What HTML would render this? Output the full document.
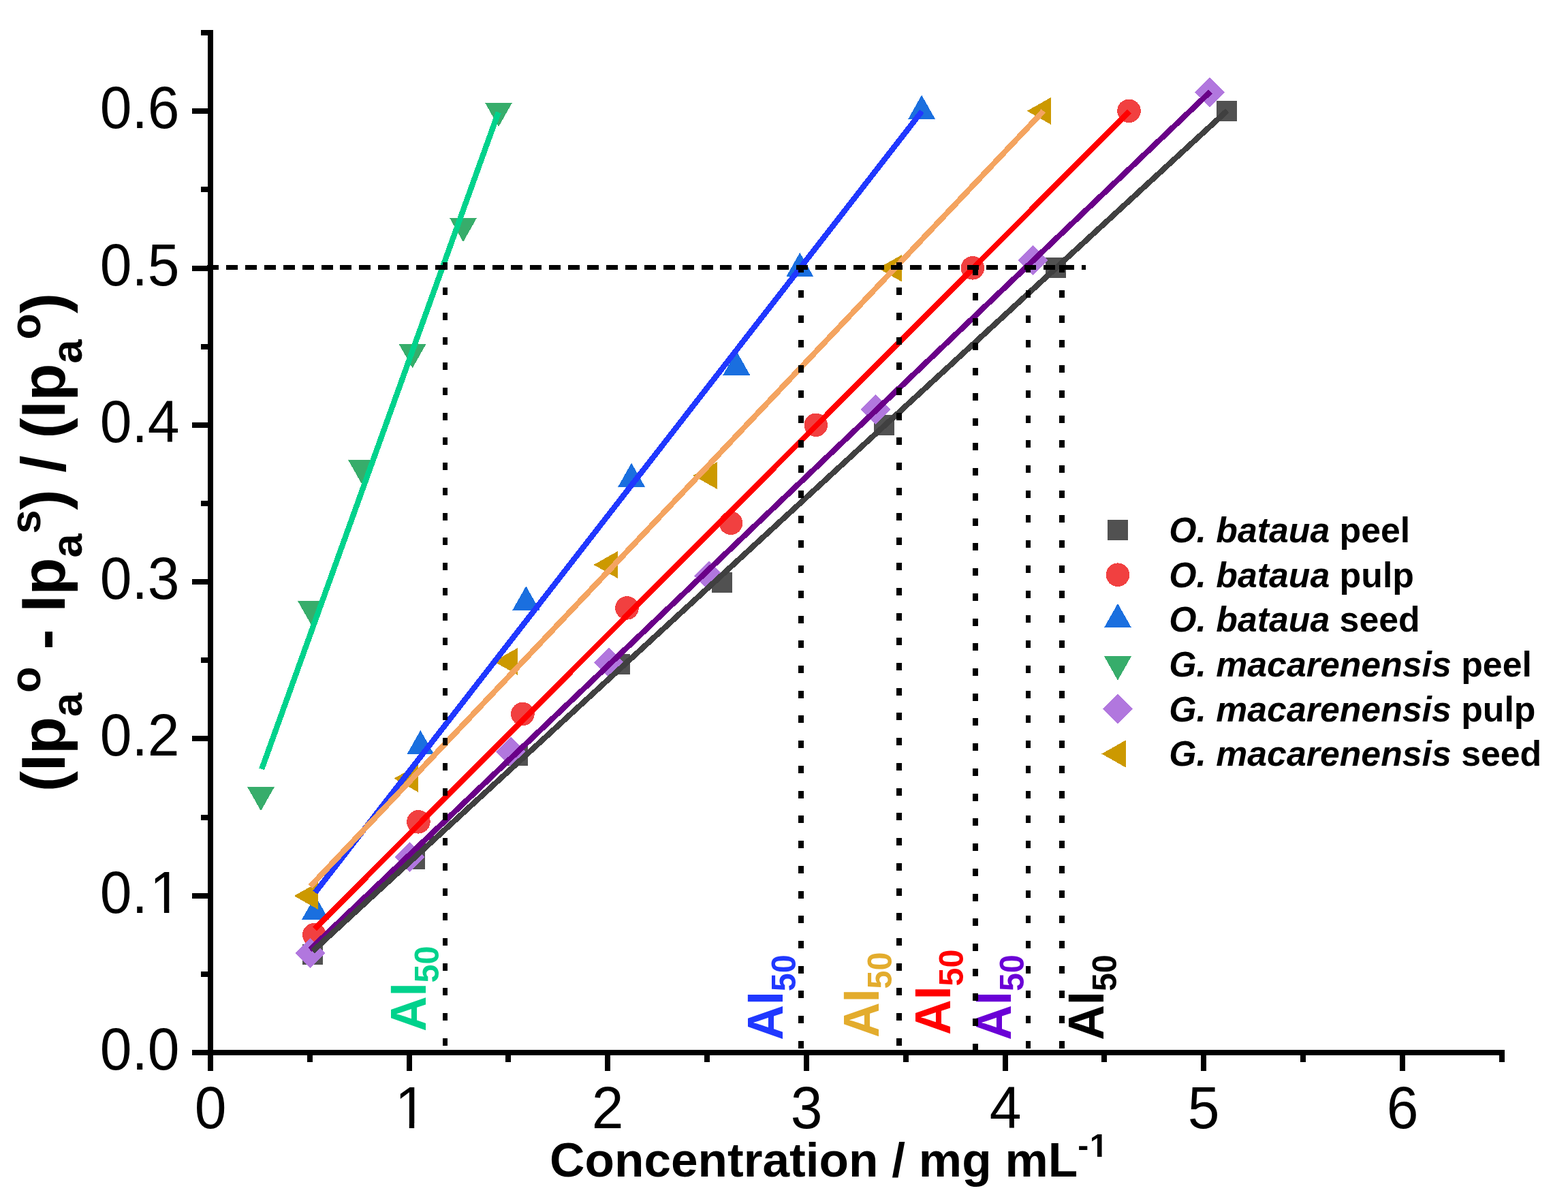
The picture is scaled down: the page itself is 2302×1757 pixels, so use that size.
<!DOCTYPE html>
<html lang="en"><head><meta charset="utf-8"><title>AI50 calibration plot</title>
<style>
html,body{margin:0;padding:0;background:#fff;}
svg{display:block;}
text{font-family:"Liberation Sans",sans-serif;}
.b{font-weight:bold;}
.bi{font-weight:bold;font-style:italic;}
</style></head><body>
<svg width="2302" height="1757" viewBox="0 0 2302 1757">
<rect x="0" y="0" width="2302" height="1757" fill="#ffffff"/>
<g id="markers" shape-rendering="crispEdges">
<g><rect x="444.1" y="1386.0" width="30" height="30" fill="#515151"/><rect x="593.9" y="1246.0" width="30" height="30" fill="#515151"/><rect x="744.9" y="1093.5" width="30" height="30" fill="#515151"/><rect x="895.0" y="959.8" width="30" height="30" fill="#515151"/><rect x="1045.0" y="839.8" width="30" height="30" fill="#515151"/><rect x="1282.5" y="608.8" width="30" height="30" fill="#515151"/><rect x="1534.5" y="378.0" width="30" height="30" fill="#515151"/><rect x="1786.0" y="148.0" width="30" height="30" fill="#515151"/></g>
<g><circle cx="461.3" cy="1372.3" r="17.3" fill="#F14040"/><circle cx="614.4" cy="1206.3" r="17.3" fill="#F14040"/><circle cx="767.4" cy="1048.0" r="17.3" fill="#F14040"/><circle cx="920.5" cy="892.4" r="17.3" fill="#F14040"/><circle cx="1073.0" cy="767.8" r="17.3" fill="#F14040"/><circle cx="1197.8" cy="623.8" r="17.3" fill="#F14040"/><circle cx="1427.9" cy="393.3" r="17.3" fill="#F14040"/><circle cx="1657.5" cy="162.8" r="17.3" fill="#F14040"/></g>
<g><polygon points="462.9,1314.7 482.9,1350.1 442.9,1350.1" fill="#1A6FDF"/><polygon points="617.3,1071.9 637.3,1107.3 597.3,1107.3" fill="#1A6FDF"/><polygon points="772.3,860.3 792.3,895.7 752.3,895.7" fill="#1A6FDF"/><polygon points="927.1,679.5 947.1,714.9 907.1,714.9" fill="#1A6FDF"/><polygon points="1081.3,515.4 1101.3,550.8 1061.3,550.8" fill="#1A6FDF"/><polygon points="1174.3,370.7 1194.3,406.1 1154.3,406.1" fill="#1A6FDF"/><polygon points="1353.1,139.6 1373.1,175.0 1333.1,175.0" fill="#1A6FDF"/></g>
<g><polygon points="363.0,1154.9 403.0,1154.9 383.0,1190.3" fill="#37AD6B"/><polygon points="437.0,882.0 477.0,882.0 457.0,917.4" fill="#37AD6B"/><polygon points="510.9,674.7 550.9,674.7 530.9,710.1" fill="#37AD6B"/><polygon points="585.6,504.9 625.6,504.9 605.6,540.3" fill="#37AD6B"/><polygon points="660.0,319.8 700.0,319.8 680.0,355.2" fill="#37AD6B"/><polygon points="712.0,150.7 752.0,150.7 732.0,186.1" fill="#37AD6B"/></g>
<g><polygon points="455.0,1377.0 477.0,1399.0 455.0,1421.0 433.0,1399.0" fill="#B177DE"/><polygon points="601.6,1236.0 623.6,1258.0 601.6,1280.0 579.6,1258.0" fill="#B177DE"/><polygon points="749.7,1081.5 771.7,1103.5 749.7,1125.5 727.7,1103.5" fill="#B177DE"/><polygon points="894.0,950.5 916.0,972.5 894.0,994.5 872.0,972.5" fill="#B177DE"/><polygon points="1040.8,823.8 1062.8,845.8 1040.8,867.8 1018.8,845.8" fill="#B177DE"/><polygon points="1285.9,579.0 1307.9,601.0 1285.9,623.0 1263.9,601.0" fill="#B177DE"/><polygon points="1516.4,360.1 1538.4,382.1 1516.4,404.1 1494.4,382.1" fill="#B177DE"/><polygon points="1776.1,113.5 1798.1,135.5 1776.1,157.5 1754.1,135.5" fill="#B177DE"/></g>
<g><polygon points="431.7,1315.0 467.1,1295.0 467.1,1335.0" fill="#CC9900"/><polygon points="578.4,1142.7 613.8,1122.7 613.8,1162.7" fill="#CC9900"/><polygon points="724.8,970.9 760.2,950.9 760.2,990.9" fill="#CC9900"/><polygon points="871.6,829.0 907.0,809.0 907.0,849.0" fill="#CC9900"/><polygon points="1017.6,698.0 1053.0,678.0 1053.0,718.0" fill="#CC9900"/><polygon points="1289.0,393.8 1324.4,373.8 1324.4,413.8" fill="#CC9900"/><polygon points="1507.7,162.9 1543.1,142.9 1543.1,182.9" fill="#CC9900"/></g>
</g>
<g id="fits" fill="none" stroke-width="8.3" stroke-linecap="butt" shape-rendering="crispEdges">
<line x1="384.2" y1="1129.0" x2="731.7" y2="164.9" stroke="#00D28C"/>
<line x1="462.7" y1="1310.0" x2="1353.5" y2="163.3" stroke="#2038FF"/>
<line x1="455.6" y1="1301.0" x2="1531.9" y2="162.9" stroke="#F4A460"/>
<line x1="461.8" y1="1363.6" x2="1658.0" y2="163.4" stroke="#FF0000"/>
<line x1="455.0" y1="1394.0" x2="1777.0" y2="134.5" stroke="#6A0088"/>
<line x1="459.1" y1="1396.1" x2="1801.6" y2="162.5" stroke="#404040"/>
</g>
<g id="ai50">
<text class="b" transform="translate(625.1,1514.0) rotate(-90) scale(1,1.035)" font-size="71.6" fill="#00D28C">AI<tspan font-size="48.4" dy="17.97">50</tspan></text>
<text class="b" transform="translate(1149,1526.8) rotate(-90) scale(1,1.035)" font-size="71.6" fill="#2038FF">AI<tspan font-size="48.4" dy="17.97">50</tspan></text>
<text class="b" transform="translate(1289.9,1523) rotate(-90) scale(1,1.035)" font-size="71.6" fill="#E3AC2D">AI<tspan font-size="48.4" dy="17.97">50</tspan></text>
<text class="b" transform="translate(1395.2,1519) rotate(-90) scale(1,1.035)" font-size="71.6" fill="#FF0000">AI<tspan font-size="48.4" dy="17.97">50</tspan></text>
<text class="b" transform="translate(1484,1526.7) rotate(-90) scale(1,1.035)" font-size="71.6" fill="#6A00D6">AI<tspan font-size="48.4" dy="17.97">50</tspan></text>
<text class="b" transform="translate(1620,1526.7) rotate(-90) scale(1,1.035)" font-size="71.6" fill="#000000">AI<tspan font-size="48.4" dy="17.97">50</tspan></text>
</g>
<g id="ref" fill="#000" shape-rendering="crispEdges">
<rect x="304" y="389" width="17" height="7"/><rect x="332" y="389" width="17" height="7"/><rect x="360" y="389" width="17" height="7"/><rect x="388" y="389" width="17" height="7"/><rect x="416" y="389" width="17" height="7"/><rect x="444" y="389" width="17" height="7"/><rect x="472" y="389" width="17" height="7"/><rect x="499" y="389" width="17" height="7"/><rect x="527" y="389" width="17" height="7"/><rect x="555" y="389" width="17" height="7"/><rect x="583" y="389" width="17" height="7"/><rect x="611" y="389" width="17" height="7"/><rect x="639" y="389" width="17" height="7"/><rect x="667" y="389" width="17" height="7"/><rect x="695" y="389" width="17" height="7"/><rect x="723" y="389" width="17" height="7"/><rect x="750" y="389" width="17" height="7"/><rect x="778" y="389" width="17" height="7"/><rect x="806" y="389" width="17" height="7"/><rect x="834" y="389" width="17" height="7"/><rect x="862" y="389" width="17" height="7"/><rect x="890" y="389" width="17" height="7"/><rect x="918" y="389" width="17" height="7"/><rect x="946" y="389" width="17" height="7"/><rect x="974" y="389" width="17" height="7"/><rect x="1002" y="389" width="17" height="7"/><rect x="1030" y="389" width="17" height="7"/><rect x="1057" y="389" width="17" height="7"/><rect x="1085" y="389" width="17" height="7"/><rect x="1113" y="389" width="17" height="7"/><rect x="1141" y="389" width="17" height="7"/><rect x="1169" y="389" width="17" height="7"/><rect x="1197" y="389" width="17" height="7"/><rect x="1225" y="389" width="17" height="7"/><rect x="1253" y="389" width="17" height="7"/><rect x="1281" y="389" width="17" height="7"/><rect x="1308" y="389" width="17" height="7"/><rect x="1336" y="389" width="17" height="7"/><rect x="1364" y="389" width="17" height="7"/><rect x="1392" y="389" width="17" height="7"/><rect x="1420" y="389" width="17" height="7"/><rect x="1448" y="389" width="17" height="7"/><rect x="1476" y="389" width="17" height="7"/><rect x="1504" y="389" width="17" height="7"/><rect x="1532" y="389" width="17" height="7"/><rect x="1560" y="389" width="17" height="7"/><rect x="1588" y="389" width="6" height="7"/>
<rect x="650" y="385" width="7" height="11"/><rect x="650" y="422" width="7" height="11"/><rect x="650" y="459" width="7" height="11"/><rect x="650" y="495" width="7" height="11"/><rect x="650" y="532" width="7" height="11"/><rect x="650" y="569" width="7" height="11"/><rect x="650" y="606" width="7" height="11"/><rect x="650" y="642" width="7" height="11"/><rect x="650" y="679" width="7" height="11"/><rect x="650" y="716" width="7" height="11"/><rect x="650" y="753" width="7" height="11"/><rect x="650" y="789" width="7" height="11"/><rect x="650" y="826" width="7" height="11"/><rect x="650" y="863" width="7" height="11"/><rect x="650" y="900" width="7" height="11"/><rect x="650" y="936" width="7" height="11"/><rect x="650" y="973" width="7" height="11"/><rect x="650" y="1010" width="7" height="11"/><rect x="650" y="1046" width="7" height="11"/><rect x="650" y="1083" width="7" height="11"/><rect x="650" y="1120" width="7" height="11"/><rect x="650" y="1157" width="7" height="11"/><rect x="650" y="1193" width="7" height="11"/><rect x="650" y="1230" width="7" height="11"/><rect x="650" y="1267" width="7" height="11"/><rect x="650" y="1304" width="7" height="11"/><rect x="650" y="1340" width="7" height="11"/><rect x="650" y="1377" width="7" height="11"/><rect x="650" y="1414" width="7" height="11"/><rect x="650" y="1450" width="7" height="11"/><rect x="650" y="1487" width="7" height="11"/><rect x="650" y="1524" width="7" height="11"/>
<rect x="1172" y="389" width="8" height="11"/><rect x="1172" y="426" width="8" height="11"/><rect x="1172" y="463" width="8" height="11"/><rect x="1172" y="499" width="8" height="11"/><rect x="1172" y="536" width="8" height="11"/><rect x="1172" y="573" width="8" height="11"/><rect x="1172" y="610" width="8" height="11"/><rect x="1172" y="646" width="8" height="11"/><rect x="1172" y="683" width="8" height="11"/><rect x="1172" y="720" width="8" height="11"/><rect x="1172" y="757" width="8" height="11"/><rect x="1172" y="793" width="8" height="11"/><rect x="1172" y="830" width="8" height="11"/><rect x="1172" y="867" width="8" height="11"/><rect x="1172" y="904" width="8" height="11"/><rect x="1172" y="940" width="8" height="11"/><rect x="1172" y="977" width="8" height="11"/><rect x="1172" y="1014" width="8" height="11"/><rect x="1172" y="1050" width="8" height="11"/><rect x="1172" y="1087" width="8" height="11"/><rect x="1172" y="1124" width="8" height="11"/><rect x="1172" y="1161" width="8" height="11"/><rect x="1172" y="1197" width="8" height="11"/><rect x="1172" y="1234" width="8" height="11"/><rect x="1172" y="1271" width="8" height="11"/><rect x="1172" y="1308" width="8" height="11"/><rect x="1172" y="1344" width="8" height="11"/><rect x="1172" y="1381" width="8" height="11"/><rect x="1172" y="1418" width="8" height="11"/><rect x="1172" y="1454" width="8" height="11"/><rect x="1172" y="1491" width="8" height="11"/><rect x="1172" y="1528" width="8" height="11"/>
<rect x="1316" y="385" width="8" height="11"/><rect x="1316" y="422" width="8" height="11"/><rect x="1316" y="459" width="8" height="11"/><rect x="1316" y="495" width="8" height="11"/><rect x="1316" y="532" width="8" height="11"/><rect x="1316" y="569" width="8" height="11"/><rect x="1316" y="606" width="8" height="11"/><rect x="1316" y="642" width="8" height="11"/><rect x="1316" y="679" width="8" height="11"/><rect x="1316" y="716" width="8" height="11"/><rect x="1316" y="753" width="8" height="11"/><rect x="1316" y="789" width="8" height="11"/><rect x="1316" y="826" width="8" height="11"/><rect x="1316" y="863" width="8" height="11"/><rect x="1316" y="900" width="8" height="11"/><rect x="1316" y="936" width="8" height="11"/><rect x="1316" y="973" width="8" height="11"/><rect x="1316" y="1010" width="8" height="11"/><rect x="1316" y="1046" width="8" height="11"/><rect x="1316" y="1083" width="8" height="11"/><rect x="1316" y="1120" width="8" height="11"/><rect x="1316" y="1157" width="8" height="11"/><rect x="1316" y="1193" width="8" height="11"/><rect x="1316" y="1230" width="8" height="11"/><rect x="1316" y="1267" width="8" height="11"/><rect x="1316" y="1304" width="8" height="11"/><rect x="1316" y="1340" width="8" height="11"/><rect x="1316" y="1377" width="8" height="11"/><rect x="1316" y="1414" width="8" height="11"/><rect x="1316" y="1450" width="8" height="11"/><rect x="1316" y="1487" width="8" height="11"/><rect x="1316" y="1524" width="8" height="11"/>
<rect x="1428" y="393" width="8" height="11"/><rect x="1428" y="430" width="8" height="11"/><rect x="1428" y="467" width="8" height="11"/><rect x="1428" y="503" width="8" height="11"/><rect x="1428" y="540" width="8" height="11"/><rect x="1428" y="577" width="8" height="11"/><rect x="1428" y="614" width="8" height="11"/><rect x="1428" y="650" width="8" height="11"/><rect x="1428" y="687" width="8" height="11"/><rect x="1428" y="724" width="8" height="11"/><rect x="1428" y="761" width="8" height="11"/><rect x="1428" y="797" width="8" height="11"/><rect x="1428" y="834" width="8" height="11"/><rect x="1428" y="871" width="8" height="11"/><rect x="1428" y="908" width="8" height="11"/><rect x="1428" y="944" width="8" height="11"/><rect x="1428" y="981" width="8" height="11"/><rect x="1428" y="1018" width="8" height="11"/><rect x="1428" y="1054" width="8" height="11"/><rect x="1428" y="1091" width="8" height="11"/><rect x="1428" y="1128" width="8" height="11"/><rect x="1428" y="1165" width="8" height="11"/><rect x="1428" y="1201" width="8" height="11"/><rect x="1428" y="1238" width="8" height="11"/><rect x="1428" y="1275" width="8" height="11"/><rect x="1428" y="1312" width="8" height="11"/><rect x="1428" y="1348" width="8" height="11"/><rect x="1428" y="1385" width="8" height="11"/><rect x="1428" y="1422" width="8" height="11"/><rect x="1428" y="1458" width="8" height="11"/><rect x="1428" y="1495" width="8" height="11"/><rect x="1428" y="1532" width="8" height="11"/>
<rect x="1506" y="389" width="7" height="11"/><rect x="1506" y="426" width="7" height="11"/><rect x="1506" y="463" width="7" height="11"/><rect x="1506" y="499" width="7" height="11"/><rect x="1506" y="536" width="7" height="11"/><rect x="1506" y="573" width="7" height="11"/><rect x="1506" y="610" width="7" height="11"/><rect x="1506" y="646" width="7" height="11"/><rect x="1506" y="683" width="7" height="11"/><rect x="1506" y="720" width="7" height="11"/><rect x="1506" y="756" width="7" height="11"/><rect x="1506" y="793" width="7" height="11"/><rect x="1506" y="830" width="7" height="11"/><rect x="1506" y="867" width="7" height="11"/><rect x="1506" y="903" width="7" height="11"/><rect x="1506" y="940" width="7" height="11"/><rect x="1506" y="977" width="7" height="11"/><rect x="1506" y="1014" width="7" height="11"/><rect x="1506" y="1050" width="7" height="11"/><rect x="1506" y="1087" width="7" height="11"/><rect x="1506" y="1124" width="7" height="11"/><rect x="1506" y="1161" width="7" height="11"/><rect x="1506" y="1197" width="7" height="11"/><rect x="1506" y="1234" width="7" height="11"/><rect x="1506" y="1271" width="7" height="11"/><rect x="1506" y="1307" width="7" height="11"/><rect x="1506" y="1344" width="7" height="11"/><rect x="1506" y="1381" width="7" height="11"/><rect x="1506" y="1418" width="7" height="11"/><rect x="1506" y="1454" width="7" height="11"/><rect x="1506" y="1491" width="7" height="11"/><rect x="1506" y="1528" width="7" height="11"/>
<rect x="1555" y="389" width="8" height="11"/><rect x="1555" y="426" width="8" height="11"/><rect x="1555" y="463" width="8" height="11"/><rect x="1555" y="499" width="8" height="11"/><rect x="1555" y="536" width="8" height="11"/><rect x="1555" y="573" width="8" height="11"/><rect x="1555" y="610" width="8" height="11"/><rect x="1555" y="646" width="8" height="11"/><rect x="1555" y="683" width="8" height="11"/><rect x="1555" y="720" width="8" height="11"/><rect x="1555" y="756" width="8" height="11"/><rect x="1555" y="793" width="8" height="11"/><rect x="1555" y="830" width="8" height="11"/><rect x="1555" y="867" width="8" height="11"/><rect x="1555" y="903" width="8" height="11"/><rect x="1555" y="940" width="8" height="11"/><rect x="1555" y="977" width="8" height="11"/><rect x="1555" y="1014" width="8" height="11"/><rect x="1555" y="1050" width="8" height="11"/><rect x="1555" y="1087" width="8" height="11"/><rect x="1555" y="1124" width="8" height="11"/><rect x="1555" y="1161" width="8" height="11"/><rect x="1555" y="1197" width="8" height="11"/><rect x="1555" y="1234" width="8" height="11"/><rect x="1555" y="1271" width="8" height="11"/><rect x="1555" y="1307" width="8" height="11"/><rect x="1555" y="1344" width="8" height="11"/><rect x="1555" y="1381" width="8" height="11"/><rect x="1555" y="1418" width="8" height="11"/><rect x="1555" y="1454" width="8" height="11"/><rect x="1555" y="1491" width="8" height="11"/><rect x="1555" y="1528" width="8" height="11"/>
</g>
<g id="axes" fill="#000" shape-rendering="crispEdges">
<rect x="305" y="44" width="8" height="1505"/>
<rect x="305" y="1541" width="1904" height="8"/>
<rect x="282" y="1541" width="23" height="8"/>
<rect x="295" y="1426" width="10" height="8"/>
<rect x="282" y="1311" width="23" height="8"/>
<rect x="295" y="1196" width="10" height="8"/>
<rect x="282" y="1080" width="23" height="8"/>
<rect x="295" y="965" width="10" height="8"/>
<rect x="282" y="850" width="23" height="8"/>
<rect x="295" y="735" width="10" height="8"/>
<rect x="282" y="620" width="23" height="8"/>
<rect x="295" y="505" width="10" height="8"/>
<rect x="282" y="390" width="23" height="8"/>
<rect x="295" y="274" width="10" height="8"/>
<rect x="282" y="159" width="23" height="8"/>
<rect x="295" y="44" width="10" height="8"/>
<rect x="305" y="1549" width="8" height="23"/>
<rect x="451" y="1549" width="8" height="10"/>
<rect x="597" y="1549" width="8" height="23"/>
<rect x="742" y="1549" width="8" height="10"/>
<rect x="888" y="1549" width="8" height="23"/>
<rect x="1034" y="1549" width="8" height="10"/>
<rect x="1180" y="1549" width="8" height="23"/>
<rect x="1326" y="1549" width="8" height="10"/>
<rect x="1472" y="1549" width="8" height="23"/>
<rect x="1617" y="1549" width="8" height="10"/>
<rect x="1763" y="1549" width="8" height="23"/>
<rect x="1909" y="1549" width="8" height="10"/>
<rect x="2055" y="1549" width="8" height="23"/>
<rect x="2201" y="1549" width="8" height="10"/>
</g>
<g id="ticklabels" font-size="84" fill="#000">
<text transform="translate(263.5,1570.0) scale(1,1.03)" text-anchor="end">0.0</text>
<text transform="translate(266.5,1340.0) scale(1,1.03)" text-anchor="end">0.<tspan dx="3">1</tspan></text>
<rect x="223.14" y="1333" width="17.76" height="8" fill="#fff"/><rect x="248.33" y="1333" width="18.49" height="8" fill="#fff"/>
<text transform="translate(263.5,1109.0) scale(1,1.03)" text-anchor="end">0.2</text>
<text transform="translate(263.5,879.0) scale(1,1.03)" text-anchor="end">0.3</text>
<text transform="translate(263.5,649.0) scale(1,1.03)" text-anchor="end">0.4</text>
<text transform="translate(263.5,419.0) scale(1,1.03)" text-anchor="end">0.5</text>
<text transform="translate(263.5,188.0) scale(1,1.03)" text-anchor="end">0.6</text>
<text transform="translate(309,1656.2) scale(1,1.03)" text-anchor="middle">0</text>
<text transform="translate(579.64,1656.2) scale(1,1.03)">1</text>
<rect x="583.00" y="1649" width="17.76" height="9" fill="#fff"/><rect x="608.19" y="1649" width="18.49" height="9" fill="#fff"/>
<text transform="translate(892,1656.2) scale(1,1.03)" text-anchor="middle">2</text>
<text transform="translate(1184,1656.2) scale(1,1.03)" text-anchor="middle">3</text>
<text transform="translate(1476,1656.2) scale(1,1.03)" text-anchor="middle">4</text>
<text transform="translate(1767,1656.2) scale(1,1.03)" text-anchor="middle">5</text>
<text transform="translate(2059,1656.2) scale(1,1.03)" text-anchor="middle">6</text>
</g>
<text id="xtitle" class="b" x="807" y="1727" font-size="71.2" fill="#000">Concentration / mg mL<tspan font-size="48" dy="-29">-<tspan dx="1.6">1</tspan></tspan></text>
<rect x="1600.73" y="1693" width="10.24" height="6" fill="#fff"/><rect x="1617.56" y="1693" width="10.05" height="6" fill="#fff"/>
<text class="b" transform="translate(95,1162) rotate(-90)" font-size="90" fill="#000">(Ip<tspan font-size="63" dy="25">a</tspan><tspan font-size="63" dy="-61.5">o</tspan><tspan dy="36.5"> - Ip</tspan><tspan font-size="63" dy="25">a</tspan><tspan font-size="63" dy="-61.5">s</tspan><tspan dy="36.5">) / (Ip</tspan><tspan font-size="63" dy="25">a</tspan><tspan font-size="63" dy="-61.5">o</tspan><tspan dy="36.5">)</tspan></text>
<g id="legend" shape-rendering="crispEdges">
<rect x="1626.0" y="763.0" width="30" height="30" fill="#515151"/>
<text x="1716.2" y="795.9" font-size="51.8" fill="#000" xml:space="preserve"><tspan class="bi">O. bataua</tspan><tspan class="b"> peel</tspan></text>
<circle cx="1641.0" cy="843.7" r="17.3" fill="#F14040"/>
<text x="1716.2" y="861.6" font-size="51.8" fill="#000" xml:space="preserve"><tspan class="bi">O. bataua</tspan><tspan class="b"> pulp</tspan></text>
<polygon points="1641.0,885.8 1661.0,921.2 1621.0,921.2" fill="#1A6FDF"/>
<text x="1716.2" y="927.3" font-size="51.8" fill="#000" xml:space="preserve"><tspan class="bi">O. bataua</tspan><tspan class="b"> seed</tspan></text>
<polygon points="1621.0,963.3 1661.0,963.3 1641.0,998.7" fill="#37AD6B"/>
<text x="1716.2" y="993.0" font-size="51.8" fill="#000" xml:space="preserve"><tspan class="bi">G. macarenensis</tspan><tspan class="b"> peel</tspan></text>
<polygon points="1641.0,1018.8 1663.0,1040.8 1641.0,1062.8 1619.0,1040.8" fill="#B177DE"/>
<text x="1716.2" y="1058.7" font-size="51.8" fill="#000" xml:space="preserve"><tspan class="bi">G. macarenensis</tspan><tspan class="b"> pulp</tspan></text>
<polygon points="1617.4,1106.5 1652.8,1086.5 1652.8,1126.5" fill="#CC9900"/>
<text x="1716.2" y="1124.4" font-size="51.8" fill="#000" xml:space="preserve"><tspan class="bi">G. macarenensis</tspan><tspan class="b"> seed</tspan></text>
</g>
</svg></body></html>
